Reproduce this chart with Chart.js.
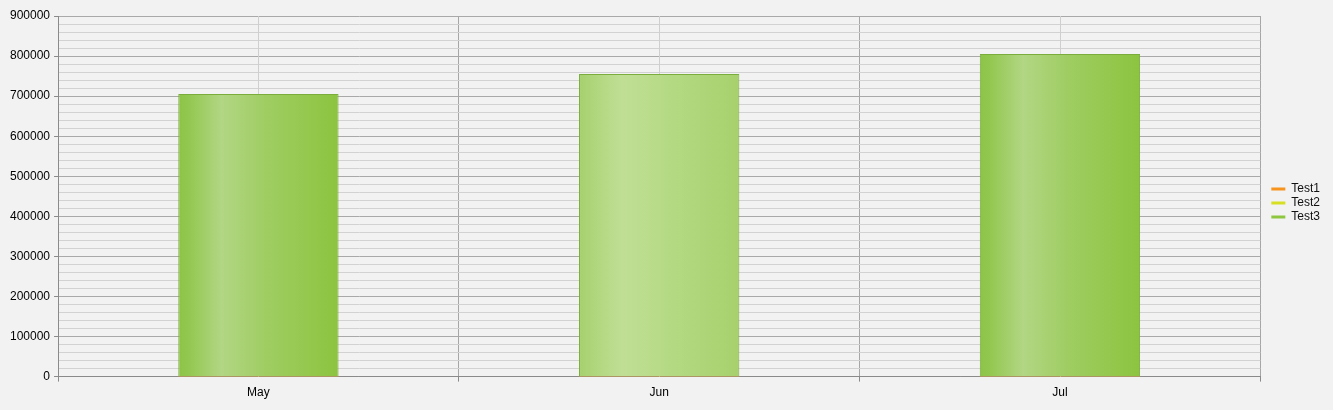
<!DOCTYPE html>
<html>
<head>
<meta charset="utf-8">
<script src="https://cdn.jsdelivr.net/npm/chart.js@4.4.1/dist/chart.umd.min.js"></script>
<style>
    html, body { margin: 0; padding: 0; background: #f2f2f2; }
    #wrap { width: 1333px; height: 410px; }
</style>
</head>
<body>
<div id="wrap"><canvas id="chart" width="1333" height="410"></canvas></div>
<script>
const categories = ['May', 'Jun', 'Jul'];
const test1Values = [200, 200, 200];
const test2Values = [900, 900, 900];
const test3Values = [704000, 754000, 804000];
const yTicks = [0, 100000, 200000, 300000, 400000, 500000, 600000, 700000, 800000, 900000];

const barRatio = 0.4;
const fontFamily = 'Liberation Sans, Arial, sans-serif';

// light band near the left third of each bar, Jun drawn a bit paler
function barFill(ctx) {
    const chart = ctx.chart;
    const xs = chart.scales.x;
    if (!xs || ctx.dataIndex == null) return '#8dc63f';
    const cx = xs.getPixelForValue(ctx.dataIndex);
    const w = (xs.width / categories.length) * barRatio;
    const g = chart.ctx.createLinearGradient(cx - w / 2, 0, cx + w / 2, 0);
    if (ctx.dataIndex === 1) {
        g.addColorStop(0, '#a6d16e');
        g.addColorStop(0.27, '#c0df95');
        g.addColorStop(0.6, '#b3d982');
        g.addColorStop(1, '#a7d16c');
    } else {
        g.addColorStop(0, '#8cc447');
        g.addColorStop(0.06, '#92c74f');
        g.addColorStop(0.27, '#b2d684');
        g.addColorStop(0.55, '#9fcd62');
        g.addColorStop(1, '#8cc43f');
    }
    return g;
}

const centerLines = {
    id: 'centerLines',
    beforeDatasetsDraw(chart) {
        const xs = chart.scales.x;
        const area = chart.chartArea;
        const c = chart.ctx;
        c.save();
        c.strokeStyle = '#cfcfcf';
        c.lineWidth = 1;
        categories.forEach((_, i) => {
            const px = Math.round(xs.getPixelForValue(i)) + 0.5;
            c.beginPath();
            c.moveTo(px, area.top);
            c.lineTo(px, area.bottom);
            c.stroke();
        });
        c.restore();
    }
};

// empty axes, only used to reserve space round the plot
const spacer = (size, horizontal) => ({
    display: true,
    grid: { display: false, drawTicks: false },
    ticks: { display: false },
    border: { display: false },
    afterFit(s) {
        if (horizontal) s.height = size; else s.width = size;
    },
});

new Chart(document.getElementById('chart'), {
    type: 'bar',
    data: {
        labels: categories,
        datasets: [
            { label: 'Test1', data: test1Values, backgroundColor: '#f7941d', borderWidth: 0 },
            { label: 'Test2', data: test2Values, backgroundColor: '#d7df23', borderWidth: 0 },
            { label: 'Test3', data: test3Values, backgroundColor: barFill, borderColor: '#7aad3c', borderWidth: 1 },
        ],
    },
    options: {
        responsive: false,
        animation: false,
        categoryPercentage: 1,
        barPercentage: barRatio,
        layout: { padding: { left: 6, top: 2, right: 3, bottom: 6 } },
        plugins: {
            tooltip: { enabled: false },
            legend: {
                position: 'right',
                labels: {
                    color: '#111',
                    font: { family: fontFamily, size: 12 },
                    boxWidth: 14,
                    boxHeight: 3,
                    padding: 2,
                    generateLabels(chart) {
                        const cols = ['#f7941d', '#d7df23', '#8dc63f'];
                        return chart.data.datasets.map((ds, i) => ({
                            text: ds.label,
                            fillStyle: cols[i],
                            strokeStyle: cols[i],
                            lineWidth: 0,
                            datasetIndex: i,
                            fontColor: '#111',
                        }));
                    },
                },
            },
        },
        scales: {
            x: {
                stacked: true,
                grid: {
                    offset: true,
                    color: '#a6a6a6',
                    tickColor: '#8a8a8a',
                    tickLength: 5,
                },
                border: { color: '#8a8a8a' },
                ticks: {
                    color: '#000',
                    padding: 4,
                    font: { family: fontFamily, size: 12 },
                },
            },
            xTop: { type: 'category', position: 'top', ...spacer(14, true) },
            y: {
                stacked: true,
                min: 0,
                max: 900000,
                afterBuildTicks(scale) {
                    const t = [];
                    for (let k = 0; k < yTicks.length - 1; k++) {
                        for (let m = 0; m < 5; m++) {
                            t.push({ value: yTicks[k] + (yTicks[k + 1] - yTicks[k]) * m / 5 });
                        }
                    }
                    t.push({ value: yTicks[yTicks.length - 1] });
                    scale.ticks = t;
                },
                grid: {
                    color: (c) => (yTicks.includes(c.tick.value) ? '#a9a9a9' : '#d2d2d2'),
                    tickColor: (c) => (yTicks.includes(c.tick.value) ? '#8a8a8a' : 'rgba(0,0,0,0)'),
                    tickLength: 4,
                },
                border: { color: '#8a8a8a' },
                ticks: {
                    color: '#000',
                    padding: 4,
                    autoSkip: false,
                    font: { family: fontFamily, size: 12 },
                    callback: (v) => (yTicks.includes(v) ? String(v) : ''),
                },
            },
            yRight: { type: 'linear', position: 'right', ...spacer(9, false) },
        },
    },
    plugins: [centerLines],
});
</script>
</body>
</html>
